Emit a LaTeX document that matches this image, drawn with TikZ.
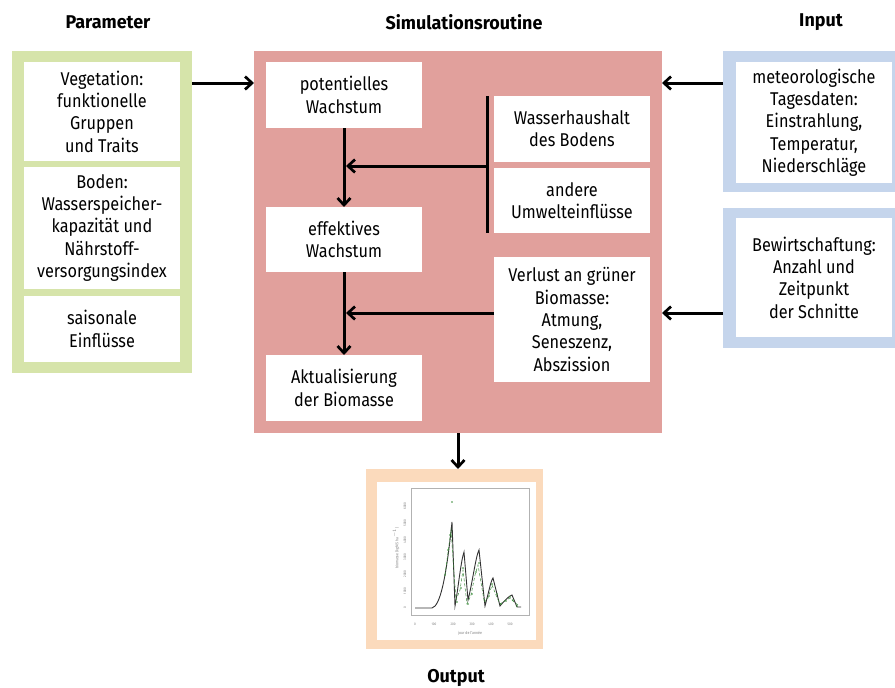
\documentclass[tikz,border=0pt]{standalone}
\usepackage{fontspec}
\setmainfont{Fira Sans}[FakeStretch=0.88]
\newfontfamily\tfont{Fira Sans}[FakeStretch=0.97]
\usetikzlibrary{arrows.meta}
\definecolor{gfr}{RGB}{214,228,170}
\definecolor{rfr}{RGB}{225,160,156}
\definecolor{bfr}{RGB}{197,213,236}
\definecolor{ofr}{RGB}{251,218,188}
\definecolor{pgreen}{RGB}{60,140,60}
\begin{document}
\begin{tikzpicture}[x=1pt,y=-1pt,
  every node/.style={inner sep=0pt,outer sep=0pt},
  frame/.style={anchor=north west},
  wbox/.style={fill=white,align=center,minimum width=156pt,font=\fontsize{18.5}{22.3}\selectfont},
  title/.style={font=\tfont\fontsize{18.5}{20}\selectfont\bfseries},
  arr/.style={line width=3pt,-{Straight Barb[length=7pt,width=13pt,line width=2.7pt]}},
  bar/.style={line width=3pt}]
\useasboundingbox (0,0) rectangle (895,688);
% titles
\node[title] (tpar) at (108,22) {Parameter};
\node[title] (tsim) at (464,22) {Simulationsroutine};
\node[title] (tinp) at (821,22) {Input};
\node[title] (tout) at (456,678) {Output};
% frames
\node[frame,fill=gfr,minimum width=180pt,minimum height=322pt] (gf) at (12,51) {};
\node[frame,fill=rfr,minimum width=408pt,minimum height=382pt] (rf) at (254,51) {};
\node[frame,fill=bfr,minimum width=172pt,minimum height=141pt] (bf1) at (723,51) {};
\node[frame,fill=bfr,minimum width=172pt,minimum height=140pt] (bf2) at (723,208) {};
\node[frame,fill=ofr,minimum width=177pt,minimum height=180pt] (of) at (366,469) {};
% parameter boxes
\node[wbox,minimum height=99pt] (veg) at (102,111.5) {Vegetation:\\funktionelle\\Gruppen\\und Traits};
\node[wbox,minimum height=122pt] (bod) at (102,228) {Boden:\\Wasserspeicher-\\kapazität und\\Nährstoff-\\versorgungsindex};
\node[wbox,minimum height=66pt] (sai) at (102,329) {saisonale\\Einflüsse};
% simulation boxes
\node[wbox,minimum height=66pt] (pot) at (344,95) {potentielles\\Wachstum};
\node[wbox,minimum height=65pt] (eff) at (344,239.5) {effektives\\Wachstum};
\node[wbox,minimum height=66pt] (akt) at (344,388) {Aktualisierung\\der Biomasse};
\node[wbox,minimum height=66pt] (was) at (572,129) {Wasserhaushalt\\des Bodens};
\node[wbox,minimum height=65pt] (and) at (572,200.5) {andere\\Umwelteinflüsse};
\node[wbox,minimum height=125pt] (ver) at (572,319.5) {Verlust an grüner\\Biomasse:\\Atmung,\\Seneszenz,\\Abszission};
% input boxes
\node[wbox,minimum height=121pt] (met) at (814,122.5) {meteorologische\\Tagesdaten:\\Einstrahlung,\\Temperatur,\\Niederschläge};
\node[wbox,minimum height=119pt] (bew) at (814,277.5) {Bewirtschaftung:\\Anzahl und\\Zeitpunkt\\der Schnitte};
% output plot
\node[frame,fill=white,minimum width=159pt,minimum height=158pt] (plot) at (377,482) {};
\coordinate (bar1) at (487,96);
\coordinate (bar2) at (487,233);
\coordinate (jn1) at (487,166);
\coordinate (m1) at (346,166);
\coordinate (m2) at (346,313);
% connectors
\draw[arr] (gf.east |- 0,83) -- (rf.west |- 0,83);
\draw[arr] (bf1.west |- 0,83) -- (rf.east |- 0,83);
\draw[arr] (bf2.west |- 0,313) -- (rf.east |- 0,313);
\draw[bar] (bar1) -- (bar2);
\draw[arr] (jn1) -- (m1);
\draw[arr] (ver.west |- m2) -- (m2);
\draw[arr] (pot.south) -- (eff.north);
\draw[arr] (eff.south) -- (akt.north);
\draw[arr] (rf.south -| 458,0) -- (of.north -| 458,0);
% plot content
\begin{scope}
\draw[gray!60,line width=0.5pt] (411,488) rectangle (529,615);
\foreach \xx/\lab in {415/0,434/100,453/200,472/300,491/400,510/500}
  \node[font=\fontsize{3.5}{3.5}\selectfont,text=gray] (xl\lab) at (\xx,624) {\lab};
\foreach \yy/\lab in {608/0,591/1000,574/2000,557/3000,540/4000,523/5000,506/6000}
  \node[font=\fontsize{3.5}{3.5}\selectfont,text=gray,rotate=90] (yl\lab) at (405,\yy) {\lab};
\node[font=\fontsize{4}{4}\selectfont,text=gray] (xlab) at (470,633) {jour de l'année};
\node[font=\fontsize{4}{4}\selectfont,text=gray,rotate=90] (ylab) at (396,548) {biomasse (kg MS ha$^{-1}$)};
\draw[line width=0.9pt,black!80] (415,608) -- (432,608) .. controls (440,606) and (446,580) .. (452,522) -- (455,606)
  .. controls (458,590) and (461,560) .. (464,552) -- (468,600)
  .. controls (472,585) and (476,555) .. (479,550) -- (485,606)
  .. controls (488,595) and (491,580) .. (493,578) -- (500,606)
  .. controls (505,600) and (509,596) .. (512,595) -- (517,607) -- (521,607);
\draw[pgreen,line width=0.5pt,densely dashed] (445,575) -- (449,545) -- (451,530) -- (456,600) -- (460,590) -- (463,570) -- (467,604) -- (471,595) -- (475,575) -- (478,565) -- (484,600) -- (488,598) -- (492,585) -- (496,595) -- (500,604) -- (506,600) -- (510,598) -- (514,602) -- (518,605);
\foreach \px/\py in {445/575,448/550,450/535,452/502,457/602,461/588,463/568,468/604,472/594,476/572,479/563,485/601,489/596,492/584,497/594,501/604,506/601,510/597,513/600,517/606}
  \fill[pgreen] (\px,\py) circle (0.9pt);
\end{scope}
\end{tikzpicture}
\end{document}
